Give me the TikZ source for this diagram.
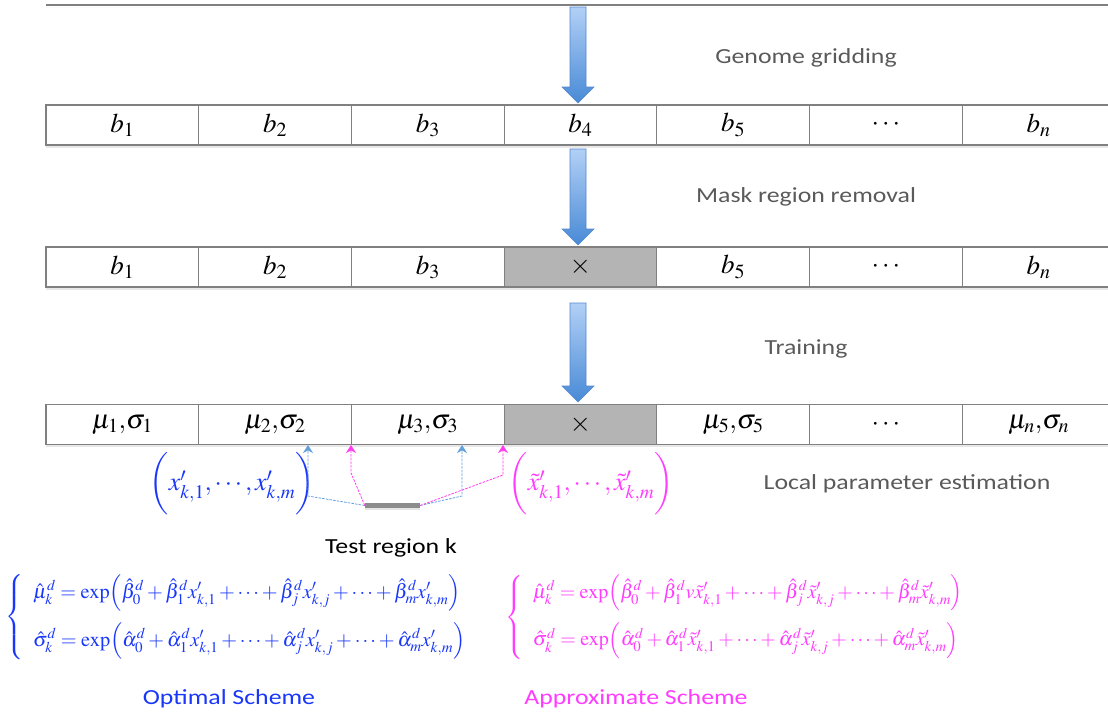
\documentclass[tikz,border=0pt]{standalone}
\usepackage{mathptmx}
\usepackage[no-math]{fontspec}
\setmainfont{Carlito}
\usetikzlibrary{arrows.meta,shadows,calc}

\definecolor{eqblue}{RGB}{25,55,250}
\definecolor{eqpink}{RGB}{255,60,255}
\definecolor{labelgray}{RGB}{90,90,90}
\definecolor{linkblue}{RGB}{100,160,220}
\definecolor{linkpink}{RGB}{255,60,240}
\definecolor{cellborder}{RGB}{128,128,128}
\definecolor{maskfill}{RGB}{180,180,180}
\definecolor{barfill}{RGB}{140,140,140}
\definecolor{arrowtop}{RGB}{178,208,246}
\definecolor{arrowbot}{RGB}{72,138,214}
\definecolor{arrowedge}{RGB}{85,135,205}

% downward block arrow: centre x, top y, tip y
\newcommand\blockdown[3]{%
  \shade[top color=arrowtop,bottom color=arrowbot,draw=arrowedge,line width=0.6]
    (#1-8,#2) -- (#1+8,#2) -- (#1+8,#3-16) -- (#1+16,#3-16) -- (#1,#3)
    -- (#1-16,#3-16) -- (#1-8,#3-16) -- cycle;}

\newcommand\steplabel[1]{\scalebox{1.2}[1]{#1}}

\begin{document}
\begin{tikzpicture}[x=1pt,y=-1pt,
  cell/.style={draw=cellborder,line width=1.2,fill=white,minimum width=152.7,
    minimum height=40,inner sep=0,font=\fontsize{27}{28}\selectfont,
    drop shadow={shadow xshift=0pt,shadow yshift=-2.5pt,opacity=0.18}},
  masked/.style={cell,fill=maskfill},
  steptext/.style={text=labelgray,font=\fontsize{21.5}{24}\selectfont},
  captext/.style={font=\fontsize{21.5}{24}\selectfont},
  eqtext/.style={font=\fontsize{20.3}{22}\selectfont,inner sep=0},
  tupletext/.style={font=\fontsize{26}{26}\selectfont,inner sep=0},
  bluelink/.style={draw=linkblue,line width=0.8,dash pattern=on 2.5pt off 1.2pt,
    -{Stealth[length=8pt,width=10pt,fill=linkblue]}},
  pinklink/.style={draw=linkpink,line width=0.8,dash pattern=on 2.5pt off 1.2pt,
    -{Stealth[length=8pt,width=10pt,fill=linkpink]}}]

\useasboundingbox (0,0) rectangle (1108,715);
\fill[white] (0,0) rectangle (1108,715);

% bottom edge of the preceding row
\draw[cellborder,line width=1.2,
  drop shadow={shadow xshift=0pt,shadow yshift=-2.5pt,opacity=0.18}] (46,5) -- (1115,5);

% row 1: genome bins
\node[cell] (a1) at (122.35,125) {$b_1$};
\node[cell] (a2) at (275.05,125) {$b_2$};
\node[cell] (a3) at (427.75,125) {$b_3$};
\node[cell] (a4) at (580.45,125) {$b_4$};
\node[cell] (a5) at (733.15,125) {$b_5$};
\node[cell] (a6) at (885.85,125) {$\cdots$};
\node[cell] (a7) at (1038.55,125) {$b_n$};

% row 2: after mask removal
\node[cell] (m1) at (122.35,267) {$b_1$};
\node[cell] (m2) at (275.05,267) {$b_2$};
\node[cell] (m3) at (427.75,267) {$b_3$};
\node[masked] (m4) at (580.45,267) {$\times$};
\node[cell] (m5) at (733.15,267) {$b_5$};
\node[cell] (m6) at (885.85,267) {$\cdots$};
\node[cell] (m7) at (1038.55,267) {$b_n$};

% row 3: trained parameters
\node[cell] (t1) at (122.35,424.5) {$\mu_1{,}\sigma_1$};
\node[cell] (t2) at (275.05,424.5) {$\mu_2{,}\sigma_2$};
\node[cell] (t3) at (427.75,424.5) {$\mu_3{,}\sigma_3$};
\node[masked] (t4) at (580.45,424.5) {$\times$};
\node[cell] (t5) at (733.15,424.5) {$\mu_5{,}\sigma_5$};
\node[cell] (t6) at (885.85,424.5) {$\cdots$};
\node[cell] (t7) at (1038.55,424.5) {$\mu_n{,}\sigma_n$};

% process arrows
\blockdown{578}{7}{103}
\blockdown{578}{149}{245}
\blockdown{578}{303}{402}

% step labels
\node[steptext] (lgrid) at (806,58) {\steplabel{Genome gridding}};
\node[steptext] (lmask) at (806,197) {\steplabel{Mask region removal}};
\node[steptext] (ltrain) at (806,349) {\steplabel{Training}};
\node[steptext] (llocal) at (907,484) {\steplabel{Local parameter estimation}};

% test region and its feature vectors
\node[fill=barfill,minimum width=55,minimum height=5,inner sep=0,
  drop shadow={shadow xshift=0pt,shadow yshift=-1.5pt,opacity=0.2}] (bar) at (392.5,505.5) {};
\node[captext] (ltest) at (391,548) {\steplabel{Test region k}};

\node[tupletext,text=eqblue] (xopt) at (232,484)
  {$\bigg(x'_{k,1},\cdots,x'_{k,m}\bigg)$};
\node[tupletext,text=eqpink] (xapp) at (591,484)
  {$\bigg(\tilde{x}'_{k,1},\cdots,\tilde{x}'_{k,m}\bigg)$};

\coordinate (bl1) at (308,496);
\coordinate (bl2) at (462,496);
\coordinate (pk1) at (351,473);
\coordinate (pk2) at (503,475);
\coordinate (hb1) at (308,445);
\coordinate (hb2) at (462,445);
\coordinate (hp1) at (351,445);
\coordinate (hp2) at (503,445);

\draw[bluelink] (bar.west) -- (bl1) -- (hb1);
\draw[bluelink] (bar.east) -- (bl2) -- (hb2);
\draw[pinklink] (bar.west) -- (pk1) -- (hp1);
\draw[pinklink] (bar.east) -- (pk2) -- (hp2);

% estimators
\node[eqtext,text=eqblue,anchor=west] (eqopt) at (5,617)
  {$\left\{\begin{array}{@{\hspace{10pt}}l}
    \hat\mu_k^d=\exp\!\Big(\hat\beta_0^d+\hat\beta_1^d x'_{k,1}+\cdots+\hat\beta_j^d x'_{k,j}+\cdots+\hat\beta_m^d x'_{k,m}\Big)\\[18pt]
    \hat\sigma_k^d=\exp\!\Big(\hat\alpha_0^d+\hat\alpha_1^d x'_{k,1}+\cdots+\hat\alpha_j^d x'_{k,j}+\cdots+\hat\alpha_m^d x'_{k,m}\Big)
  \end{array}\right.$};
\node[eqtext,text=eqpink,anchor=west,font=\fontsize{20}{22}\selectfont] (eqapp) at (505,617)
  {$\left\{\begin{array}{@{\hspace{10pt}}l}
    \hat\mu_k^d=\exp\!\Big(\hat\beta_0^d+\hat\beta_1^d v\tilde{x}'_{k,1}+\cdots+\hat\beta_j^d \tilde{x}'_{k,j}+\cdots+\hat\beta_m^d \tilde{x}'_{k,m}\Big)\\[18pt]
    \hat\sigma_k^d=\exp\!\Big(\hat\alpha_0^d+\hat\alpha_1^d \tilde{x}'_{k,1}+\cdots+\hat\alpha_j^d \tilde{x}'_{k,j}+\cdots+\hat\alpha_m^d \tilde{x}'_{k,m}\Big)
  \end{array}\right.$};

\node[captext,text=eqblue] (lopt) at (229,699) {\steplabel{Optimal Scheme}};
\node[captext,text=eqpink] (lapp) at (636,699) {\steplabel{Approximate Scheme}};
\end{tikzpicture}
\end{document}
